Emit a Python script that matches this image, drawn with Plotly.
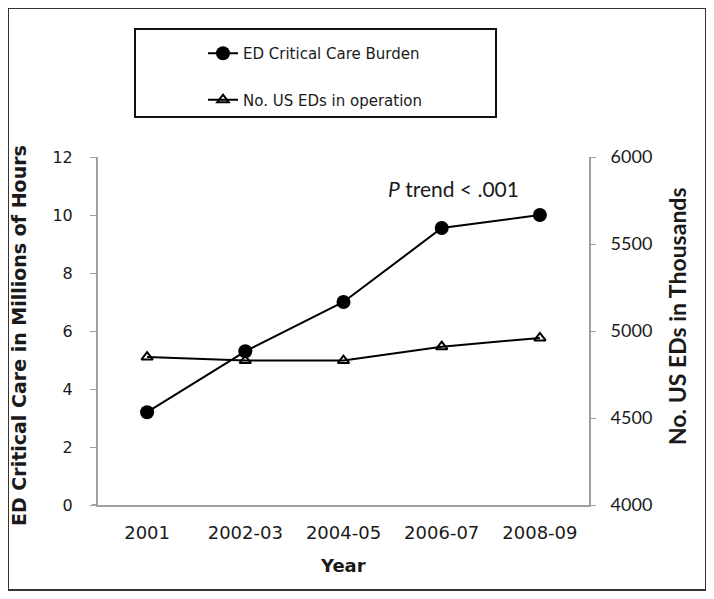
import plotly.graph_objects as go

years = ["2001", "2002-03", "2004-05", "2006-07", "2008-09"]
critical_care_hours_m = [3.2, 5.3, 7.0, 9.55, 10.0]
us_eds_thousands = [4850, 4830, 4830, 4910, 4960]
left_ticks = [0, 2, 4, 6, 8, 10, 12]
right_ticks = [4000, 4500, 5000, 5500, 6000]

W, H = 714, 599
OFF = 8  # page body margin offset
L, R, T, B = 98 - OFF, 589 - OFF, 157 - OFF, 505 - OFF  # plot area in px


def px(x):
    return (x - OFF - L) / (R - L)


def py(y):
    return (B - (y - OFF)) / (B - T)


TXT = "#1a1a1a"
GRAY = "#a0a0a0"

fig = go.Figure()
fig.add_trace(go.Scatter(
    x=years, y=critical_care_hours_m, name="ED Critical Care Burden",
    mode="lines+markers", line=dict(color="black", width=2),
    marker=dict(symbol="circle", size=14, color="black"),
    legendgroup="a", yaxis="y"))
fig.add_trace(go.Scatter(
    x=years, y=us_eds_thousands, name="No. US EDs in operation",
    mode="lines+markers", line=dict(color="black", width=2),
    marker=dict(symbol="triangle-up-open", size=10, color="black",
                line=dict(width=2, color="black")),
    legendgroup="b", yaxis="y2"))

fig.update_layout(
    width=W, height=H,
    margin=dict(l=L, r=W - R, t=T, b=H - B),
    paper_bgcolor="white", plot_bgcolor="white",
    font=dict(family="DejaVu Sans", color=TXT),
    showlegend=True,
    legend=dict(x=px(203), y=py(37), xanchor="left", yanchor="top",
                bgcolor="rgba(0,0,0,0)", borderwidth=0,
                font=dict(family="DejaVu Sans", size=15, color=TXT),
                traceorder="grouped", tracegroupgap=24),
    xaxis=dict(type="category", range=[-0.5, 4.5], showline=True,
               linecolor=GRAY, linewidth=2, ticks="", showgrid=False,
               zeroline=False, tickfont=dict(size=18, color=TXT),
               ticklabelstandoff=10),
    yaxis=dict(range=[0, 12], tickvals=left_ticks, showline=True,
               linecolor=GRAY, linewidth=2, ticks="outside", ticklen=6,
               tickcolor=GRAY, tickwidth=1, showgrid=False, zeroline=False,
               tickfont=dict(size=16, color=TXT), ticklabelstandoff=14),
    yaxis2=dict(range=[4000, 6000], tickvals=right_ticks, overlaying="y",
                side="right", showline=True, linecolor=GRAY, linewidth=2,
                ticks="outside", ticklen=5, tickcolor=GRAY, tickwidth=1,
                showgrid=False, zeroline=False,
                tickfont=dict(family="Lato", size=18, color=TXT),
                ticklabelstandoff=11),
    shapes=[
        dict(type="rect", xref="paper", yref="paper",
             x0=px(8), x1=px(706), y0=py(590), y1=py(8),
             line=dict(color="#333", width=2), layer="below"),
        dict(type="rect", xref="paper", yref="paper",
             x0=px(135), x1=px(496), y0=py(117), y1=py(29),
             line=dict(color="#111", width=2), layer="below"),
        dict(type="line", xref="paper", yref="paper",
             x0=px(92), x1=px(98), y0=0, y1=0,
             line=dict(color=GRAY, width=2)),
    ],
    annotations=[
        dict(text="<b>ED Critical Care in Millions of Hours</b>",
             xref="paper", yref="paper", x=px(19), y=py(336),
             xanchor="center", yanchor="middle",
             textangle=-90, showarrow=False,
             font=dict(family="DejaVu Sans", size=19, color=TXT)),
        dict(text="<b>No. US EDs in Thousands</b>",
             xref="paper", yref="paper", x=px(677), y=py(316),
             xanchor="center", yanchor="middle",
             textangle=-90, showarrow=False,
             font=dict(family="Lato", size=23, color=TXT)),
        dict(text="<b>Year</b>", xref="paper", yref="paper",
             x=px(343), y=py(565), xanchor="center", yanchor="middle",
             showarrow=False,
             font=dict(family="DejaVu Sans", size=18, color=TXT)),
        dict(text="<i>P</i> trend < .001", xref="paper", yref="paper",
             x=px(453), y=py(188), xanchor="center", yanchor="middle",
             showarrow=False,
             font=dict(family="Lato", size=21, color=TXT)),
    ],
)

fig.write_html("out.html")
